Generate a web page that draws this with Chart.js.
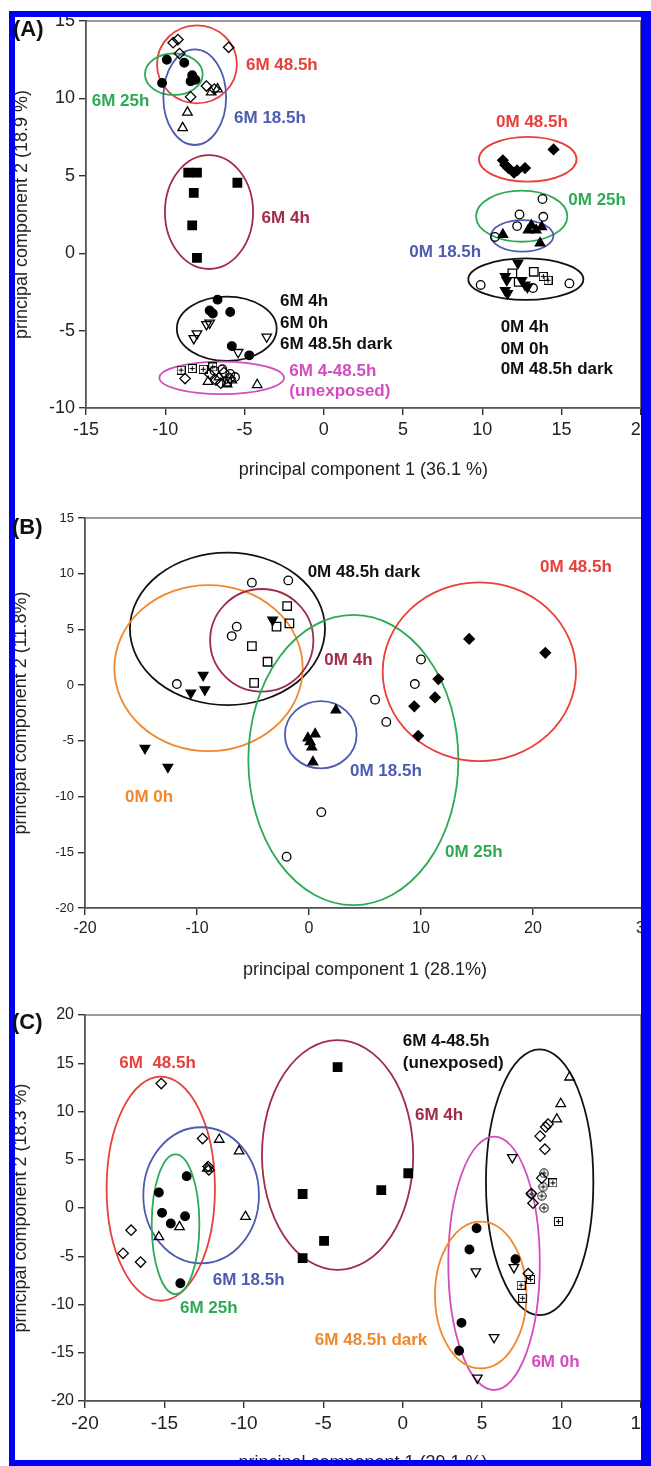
<!DOCTYPE html>
<html>
<head>
<meta charset="utf-8">
<script src="https://cdn.jsdelivr.net/npm/chart.js@4.4.1/dist/chart.umd.min.js"></script>
<style>
body { margin: 0; width: 651px; height: 1466px; overflow: hidden; background: #fff; position: relative; font-family: "Liberation Sans", Arial, sans-serif; }
canvas { position: absolute; left: 0; }
#frame { position: absolute; left: 9px; top: 11px; width: 642px; height: 1455px; box-sizing: border-box; border: 6px solid #0000f5; border-right-width: 10px; pointer-events: none; z-index: 5; }
.tag { position: absolute; font-weight: bold; font-size: 22px; line-height: 1; color: #111; z-index: 6; }
</style>
</head>
<body>
<canvas id="pa" width="700" height="497" style="top:0px"></canvas>
<canvas id="pb" width="700" height="497" style="top:497px"></canvas>
<canvas id="pc" width="700" height="497" style="top:994px"></canvas>
<div id="frame"></div>
<div class="tag" style="left:13px;top:18px">(A)</div>
<div class="tag" style="left:12px;top:516px">(B)</div>
<div class="tag" style="left:12px;top:1011px">(C)</div>
<script>
// ---- panel A : values ----
const a6M48 = [[-9.5, 13.6], [-9.2, 13.8], [-6.0, 13.3], [-9.1, 12.9], [-7.4, 10.8], [-6.9, 10.6], [-8.4, 10.1]];
const a6M18 = [[-7.1, 10.4], [-6.7, 10.6], [-8.6, 9.1], [-8.9, 8.1]];
const a6M25 = [[-9.9, 12.5], [-8.8, 12.3], [-8.3, 11.5], [-8.1, 11.2], [-8.4, 11.1], [-10.2, 11.0]];
const a6M4 = [[-8.55, 5.2], [-8.0, 5.2], [-5.45, 4.55], [-8.2, 3.9], [-8.3, 1.8], [-8.0, -0.3]];
const a6MctlCirc = [[-6.7, -3.0], [-7.2, -3.7], [-7.0, -3.9], [-5.9, -3.8], [-5.8, -6.0], [-4.7, -6.6]];
const a6MctlTri = [[-8.2, -5.5], [-8.0, -5.2], [-7.4, -4.6], [-7.2, -4.5], [-3.6, -5.4], [-5.4, -6.4]];
const a6MunBox = [[-9.0, -7.55], [-8.3, -7.45], [-7.6, -7.5], [-7.0, -7.35]];
const a6MunDia = [[-8.75, -8.1], [-7.2, -7.8], [-6.8, -8.2], [-6.3, -7.7], [-5.9, -8.1], [-6.5, -8.4]];
const a6MunTri = [[-7.3, -8.3], [-6.6, -8.0], [-5.8, -8.2], [-6.1, -8.45], [-4.2, -8.5]];
const a6MunCirc = [[-6.4, -7.5], [-5.9, -7.8], [-5.6, -8.0], [-6.9, -7.6]];
const a6MunSq = [[-6.1, -8.3]];
const a0M48 = [[14.5, 6.7], [11.3, 6.0], [11.45, 5.7], [11.65, 5.5], [12.0, 5.2], [12.2, 5.35], [12.7, 5.5]];
const a0M25 = [[13.8, 3.5], [12.35, 2.5], [13.85, 2.35], [12.2, 1.75], [10.8, 1.05]];
const a0M18 = [[11.3, 1.2], [13.1, 1.8], [12.9, 1.5], [13.4, 1.5], [13.75, 1.7], [13.65, 0.65]];
const a0MctlTri = [[12.25, -0.65], [11.45, -1.5], [11.55, -1.75], [12.5, -1.75], [12.7, -2.05], [12.85, -2.2], [11.45, -2.4], [11.6, -2.6]];
const a0MctlSq = [[11.9, -1.3], [13.25, -1.2], [12.3, -1.85]];
const a0MctlBox = [[13.85, -1.5], [14.15, -1.75]];
const a0MctlCirc = [[9.9, -2.05], [13.2, -2.25], [15.5, -1.95]];
// ellipses: [group, centre x, centre y, half width, half height]
const aEllipses = [
  ['48.5h', -8.0, 12.2, 2.52, 2.52], ['25h', -9.46, 11.56, 1.82, 1.34], ['18.5h', -8.14, 10.08, 1.98, 3.09],
  ['4h', -7.24, 2.66, 2.78, 3.68], ['ctl', -6.12, -4.88, 3.15, 2.07], ['unexp', -6.44, -8.05, 3.93, 1.05],
  ['48.5h', 12.87, 6.07, 3.08, 1.45], ['25h', 12.49, 2.39, 2.88, 1.65], ['18.5h', 12.52, 1.12, 1.97, 1.02],
  ['ctl', 12.75, -1.68, 3.63, 1.34]
];
const aLabels = [
  ['48.5h', '6M 48.5h', -4.91, 12.11], ['25h', '6M 25h', -14.64, 9.79], ['18.5h', '6M 18.5h', -5.66, 8.71],
  ['4h', '6M 4h', -3.92, 2.25], ['ctl', '6M 4h', -2.76, -3.13], ['ctl', '6M 0h', -2.76, -4.53],
  ['ctl', '6M 48.5h dark', -2.76, -5.87], ['unexp', '6M 4-48.5h', -2.17, -7.66], ['unexp', '(unexposed)', -2.17, -8.95],
  ['48.5h', '0M 48.5h', 10.87, 8.43], ['25h', '0M 25h', 15.43, 3.44], ['18.5h', '0M 18.5h', 5.4, 0.03],
  ['ctl', '0M 4h', 11.16, -4.81], ['ctl', '0M 0h', 11.16, -6.21], ['ctl', '0M 48.5h dark', 11.16, -7.5]
];

// ---- panel B ----
const bCirc = [[-5.1, 9.2], [-1.85, 9.4], [-6.45, 5.25], [-6.9, 4.4], [-11.8, 0.1], [10.0, 2.3], [9.45, 0.1], [5.9, -1.3], [6.9, -3.3], [1.1, -11.4], [-2.0, -15.4]];
const bDia = [[14.3, 4.15], [11.55, 0.55], [11.25, -1.1], [9.4, -1.9], [9.75, -4.55], [21.1, 2.9]];
const bSq = [[-1.95, 7.1], [-2.9, 5.25], [-1.75, 5.55], [-5.1, 3.5], [-3.7, 2.1], [-4.9, 0.2]];
const bTriDown = [[-3.25, 5.85], [-9.45, 0.9], [-9.3, -0.4], [-10.55, -0.7], [-14.65, -5.65], [-12.6, -7.35]];
const bTriUp = [[2.4, -2.25], [0.55, -4.4], [0.1, -5.1], [0.25, -5.55], [0.35, -6.9], [-0.1, -4.75]];
const bEllipses = [
  ['ctl', -7.28, 5.05, 8.71, 6.84], ['0h', -8.97, 1.53, 8.41, 7.45], ['4h', -4.22, 4.02, 4.61, 4.61],
  ['25h', 3.96, -6.72, 9.375, 13.02], ['48.5h', 15.21, 1.2, 8.63, 8.02], ['18.5h', 1.05, -4.45, 3.2, 3.02]
];
const bLabels = [
  ['ctl', '0M 48.5h dark', -0.12, 10.09], ['4h', '0M 4h', 1.37, 2.25], ['48.5h', '0M 48.5h', 20.63, 10.6],
  ['18.5h', '0M 18.5h', 3.66, -7.77], ['0h', '0M 0h', -16.43, -10.04], ['25h', '0M 25h', 12.14, -15.0]
];

// ---- panel C ----
const c6M48 = [[-15.2, 12.9], [-12.6, 7.2], [-12.25, 4.3], [-12.2, 3.95], [-17.1, -2.3], [-17.6, -4.7], [-16.5, -5.6]];
const c6M18 = [[-11.55, 7.1], [-10.3, 5.9], [-12.3, 4.1], [-9.9, -0.9], [-14.05, -1.95], [-15.35, -3.0]];
const c6M25 = [[-13.6, 3.3], [-15.35, 1.6], [-15.15, -0.5], [-14.6, -1.6], [-13.7, -0.85], [-14.0, -7.8]];
const c6M4 = [[-4.1, 14.6], [0.35, 3.6], [-1.35, 1.85], [-6.3, 1.45], [-4.95, -3.4], [-6.3, -5.2]];
const cUnTri = [[10.5, 13.55], [9.95, 10.8], [9.7, 9.2]];
const cUnDia = [[9.15, 8.7], [9.0, 8.4], [8.65, 7.45], [8.95, 6.1], [8.75, 3.1], [8.1, 1.5], [8.2, 0.5], [7.9, -6.8]];
const cUnCircPlus = [[8.9, 3.6], [8.85, 2.2], [8.75, 1.25], [8.9, 0.0], [8.1, 1.45]];
const cUnBox = [[9.45, 2.6], [9.8, -1.4], [7.45, -8.0], [7.55, -9.35], [8.05, -7.4]];
const cTriDown = [[6.9, 5.25], [7.0, -6.15], [4.6, -6.6], [5.75, -13.4], [4.7, -17.6]];
const cCirc = [[4.65, -2.1], [4.2, -4.3], [7.1, -5.3], [3.7, -11.9], [3.55, -14.8]];
const cEllipses = [
  ['48.5h', -15.23, 2.0, 3.41, 11.61], ['18.5h', -12.69, 1.32, 3.64, 7.05], ['25h', -14.3, -1.68, 1.5, 7.24],
  ['4h', -4.1, 5.49, 4.76, 11.9], ['ctl', 8.62, 2.67, 3.38, 13.77], ['unexp', 5.75, -5.73, 2.88, 13.13],
  ['0h', 4.91, -9.02, 2.88, 7.6]
];
const cLabels = [
  ['48.5h', '6M  48.5h', -17.84, 15.0], ['18.5h', '6M 18.5h', -11.96, -7.46], ['25h', '6M 25h', -14.02, -10.36],
  ['ctl', '6M 4-48.5h', 0.0, 17.24], ['ctl', '(unexposed)', 0.0, 15.0], ['4h', '6M 4h', 0.77, 9.64],
  ['0h', '6M 48.5h dark', -5.53, -13.68], ['unexp', '6M 0h', 8.1, -15.96]
];

const groupColor = {
  '48.5h': '#e8403c', '25h': '#2eaa55', '18.5h': '#4d5bb0', '4h': '#a02c48',
  'ctl': '#111111', 'unexp': '#d44cbe', '0h': '#f0892d'
};

Chart.defaults.font.family = '"Liberation Sans", Arial, sans-serif';

// small custom markers
function boxPlus() {
  const c = document.createElement('canvas');
  c.width = 9; c.height = 9;
  const g = c.getContext('2d');
  g.strokeStyle = '#000'; g.lineWidth = 1;
  g.strokeRect(0.5, 0.5, 8, 8);
  g.beginPath(); g.moveTo(4.5, 2); g.lineTo(4.5, 7); g.moveTo(2, 4.5); g.lineTo(7, 4.5); g.stroke();
  return c;
}
function circlePlus() {
  const c = document.createElement('canvas');
  c.width = 10; c.height = 10;
  const g = c.getContext('2d');
  g.strokeStyle = '#000'; g.lineWidth = 1;
  g.beginPath(); g.arc(5, 5, 4.2, 0, Math.PI * 2); g.stroke();
  g.beginPath(); g.moveTo(5, 2.5); g.lineTo(5, 7.5); g.moveTo(2.5, 5); g.lineTo(7.5, 5); g.stroke();
  return c;
}
const BOX = boxPlus();
const CIRCPLUS = circlePlus();

function pts(arr) { return arr.map(p => ({ x: p[0], y: p[1] })); }

// marker kinds
const kinds = {
  circF: { pointStyle: 'circle', pointRadius: 4.3, fill: true },
  circO: { pointStyle: 'circle', pointRadius: 4.3, fill: false },
  diaF: { pointStyle: 'rectRot', pointRadius: 5.2, fill: true },
  diaO: { pointStyle: 'rectRot', pointRadius: 5.2, fill: false },
  sqF: { pointStyle: 'rect', pointRadius: 6, fill: true },
  sqO: { pointStyle: 'rect', pointRadius: 6, fill: false },
  triF: { pointStyle: 'triangle', pointRadius: 5.5, fill: true },
  triO: { pointStyle: 'triangle', pointRadius: 5.5, fill: false },
  triDF: { pointStyle: 'triangle', pointRadius: 5.5, fill: true, rot: 180 },
  triDO: { pointStyle: 'triangle', pointRadius: 5.5, fill: false, rot: 180 },
  box: { pointStyle: BOX, pointRadius: 5, fill: false },
  cplus: { pointStyle: CIRCPLUS, pointRadius: 5, fill: false }
};

function ds(arr, kind) {
  const k = kinds[kind];
  return {
    data: pts(arr),
    pointStyle: k.pointStyle,
    pointRadius: k.pointRadius,
    pointRotation: k.rot || 0,
    backgroundColor: k.fill ? '#000' : 'rgba(255,255,255,0)',
    borderColor: '#000',
    borderWidth: 1.3,
    showLine: false
  };
}

// draws frame, group ellipses and group labels through the chart scales
const extras = {
  id: 'extras',
  beforeDatasetsDraw(chart, args, opts) {
    const { ctx, chartArea: ca, scales: { x, y } } = chart;
    ctx.save();
    ctx.strokeStyle = '#666';
    ctx.lineWidth = 1.3;
    ctx.strokeRect(ca.left, ca.top, ca.right - ca.left, ca.bottom - ca.top);
    opts.ellipses.forEach(e => {
      const cx = x.getPixelForValue(e[1]);
      const cy = y.getPixelForValue(e[2]);
      const rx = Math.abs(x.getPixelForValue(e[1] + e[3]) - cx);
      const ry = Math.abs(y.getPixelForValue(e[2] + e[4]) - cy);
      ctx.beginPath();
      ctx.ellipse(cx, cy, rx, ry, 0, 0, Math.PI * 2);
      ctx.strokeStyle = groupColor[e[0]];
      ctx.lineWidth = 1.8;
      ctx.stroke();
    });
    ctx.restore();
  },
  afterDatasetsDraw(chart, args, opts) {
    const { ctx, scales: { x, y } } = chart;
    ctx.save();
    ctx.font = 'bold 17px "Liberation Sans", Arial, sans-serif';
    ctx.textAlign = 'left';
    ctx.textBaseline = 'middle';
    opts.labels.forEach(l => {
      ctx.fillStyle = groupColor[l[0]];
      ctx.fillText(l[1], x.getPixelForValue(l[2]), y.getPixelForValue(l[3]));
    });
    ctx.restore();
  }
};

function axis(min, max, step, fontSize, title, afterFit) {
  return {
    type: 'linear', min: min, max: max,
    ticks: { stepSize: step, autoSkip: false, maxRotation: 0, color: '#222', font: { size: fontSize }, padding: 4 },
    grid: { drawOnChartArea: false, drawTicks: true, tickLength: 7, color: '#333', lineWidth: 1.4 },
    border: { display: true, color: '#333', width: 1.5 },
    title: { display: true, text: title, color: '#222', font: { size: 18 }, padding: 0 },
    afterFit: afterFit
  };
}

function panel(id, sets, pad, xs, ys, ell, lab) {
  new Chart(document.getElementById(id), {
    type: 'scatter',
    data: { datasets: sets },
    options: {
      responsive: false,
      animation: false,
      devicePixelRatio: 1,
      layout: { padding: pad },
      plugins: {
        legend: { display: false },
        tooltip: { enabled: false },
        extras: { ellipses: ell, labels: lab }
      },
      scales: {
        x: axis(xs[0], xs[1], xs[2], xs[3], xs[4], s => { s.height = 73; }),
        y: axis(ys[0], ys[1], ys[2], ys[3], ys[4], s => { s.width = 75; })
      }
    },
    plugins: [extras]
  });
}

panel('pa', [
  ds(a6M48, 'diaO'), ds(a6M18, 'triO'), ds(a6M25, 'circF'), ds(a6M4, 'sqF'),
  ds(a6MctlCirc, 'circF'), ds(a6MctlTri, 'triDO'),
  ds(a6MunBox, 'box'), ds(a6MunDia, 'diaO'), ds(a6MunTri, 'triO'), ds(a6MunCirc, 'circO'), ds(a6MunSq, 'sqO'),
  ds(a0M48, 'diaF'), ds(a0M25, 'circO'), ds(a0M18, 'triF'),
  ds(a0MctlTri, 'triDF'), ds(a0MctlSq, 'sqO'), ds(a0MctlBox, 'box'), ds(a0MctlCirc, 'circO')
], { left: 11, top: 21, right: 59.25, bottom: 16 },
  [-15, 20, 5, 18, 'principal component 1 (36.1 %)'],
  [-10, 15, 5, 18, 'principal component 2 (18.9 %)'],
  aEllipses, aLabels);

panel('pb', [
  ds(bCirc, 'circO'), ds(bDia, 'diaF'), ds(bSq, 'sqO'), ds(bTriDown, 'triDF'), ds(bTriUp, 'triF')
], { left: 10, top: 21, right: 55, bottom: 13 },
  [-20, 30, 10, 16, 'principal component 1 (28.1%)'],
  [-20, 15, 5, 13, 'principal component 2 (11.8%)'],
  bEllipses, bLabels);

panel('pc', [
  ds(c6M48, 'diaO'), ds(c6M18, 'triO'), ds(c6M25, 'circF'), ds(c6M4, 'sqF'),
  ds(cUnTri, 'triO'), ds(cUnDia, 'diaO'), ds(cUnCircPlus, 'cplus'), ds(cUnBox, 'box'),
  ds(cTriDown, 'triDO'), ds(cCirc, 'circF')
], { left: 10, top: 21, right: 59, bottom: 17 },
  [-20, 15, 5, 19, 'principal component 1 (39.1 %)'],
  [-20, 20, 5, 16, 'principal component 2 (18.3 %)'],
  cEllipses, cLabels);
</script>
</body>
</html>
